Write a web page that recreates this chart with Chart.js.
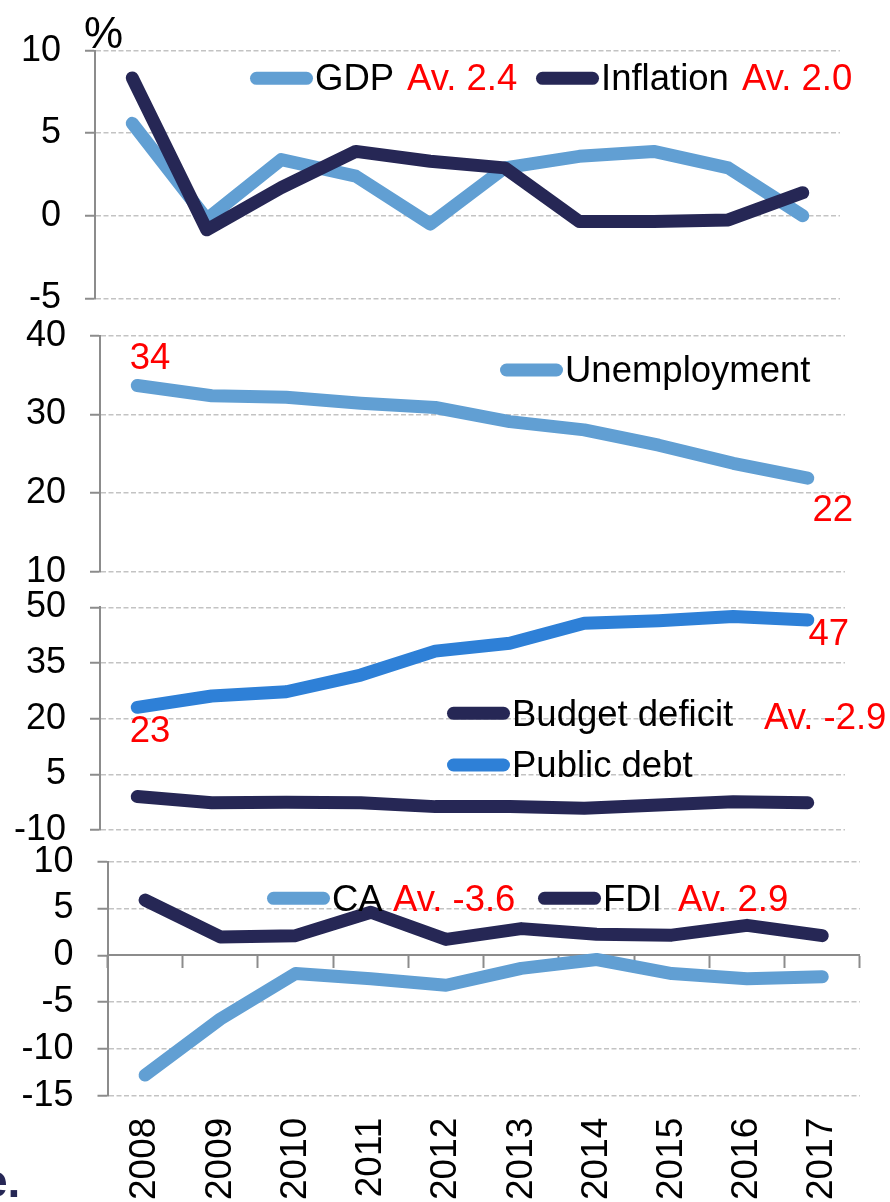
<!DOCTYPE html>
<html>
<head>
<meta charset="utf-8">
<script src="https://cdn.jsdelivr.net/npm/chart.js@4.4.1/dist/chart.umd.min.js"></script>
<style>
  html, body { margin: 0; padding: 0; background: #ffffff; }
  #wrap { position: relative; width: 890px; height: 1202px; overflow: hidden; }
  #wrap canvas { position: absolute; left: 0; top: 0; }
  #edge { position: absolute; left: -18px; top: 1158px; font: bold 46px "Liberation Sans", Arial, sans-serif; color: #262755; line-height: 46px; }
</style>
</head>
<body>
<div id="wrap">
  <canvas id="p1" width="890" height="1202"></canvas>
  <canvas id="p2" width="890" height="1202"></canvas>
  <canvas id="p3" width="890" height="1202"></canvas>
  <canvas id="p4" width="890" height="1202"></canvas>
  <div id="edge">e.</div>
</div>
<script>
// ---- data (%) ----
const years = ['2008', '2009', '2010', '2011', '2012', '2013', '2014', '2015', '2016', '2017'];
const gdp = [5.6, -0.2, 3.4, 2.4, -0.5, 2.9, 3.6, 3.9, 2.9, 0.0];
const inflation = [8.35, -0.85, 1.7, 3.9, 3.3, 2.9, -0.35, -0.35, -0.25, 1.4];
const unemployment = [33.7, 32.4, 32.2, 31.45, 30.9, 29.1, 28.05, 26.1, 23.8, 21.9];
const publicDebt = [23.05, 26.1, 27.25, 31.75, 38.2, 40.3, 45.7, 46.4, 47.5, 46.6];
const budgetDeficit = [-1.0, -2.65, -2.5, -2.65, -3.7, -3.7, -4.15, -3.25, -2.4, -2.65];
const currentAccount = [-12.8, -6.8, -1.95, -2.5, -3.2, -1.4, -0.45, -1.95, -2.5, -2.3];
const fdi = [5.9, 1.96, 2.1, 4.6, 1.7, 2.85, 2.25, 2.15, 3.2, 2.1];

// ---- style ----
const W = 890, H = 1202;
const LIGHT = '#619fd3';
const NAVY = '#262755';
const DEBT = '#2e80d7';
const RED = '#ff0000';
const GRID = '#c3c3c3';
const AXIS = '#8c8c8c';
const FAMILY = '"Liberation Sans", Arial, Helvetica, sans-serif';
const FONT = '36.5px ' + FAMILY;

Chart.defaults.font.family = FAMILY;
Chart.defaults.font.size = 36;
Chart.defaults.color = '#000000';

const mean = arr => arr.reduce((a, b) => a + b, 0) / arr.length;

// legend drawn as: line swatch, series name, optional red average
const panelLegend = {
  id: 'panelLegend',
  afterDraw(chart, args, opts) {
    if (!opts || !opts.items) return;
    const ctx = chart.ctx;
    ctx.save();
    ctx.font = FONT;
    ctx.textBaseline = 'alphabetic';
    ctx.textAlign = 'left';
    opts.items.forEach(it => {
      const ds = chart.data.datasets[it.dataset];
      ctx.strokeStyle = ds.borderColor;
      ctx.lineWidth = 13;
      ctx.lineCap = 'round';
      ctx.beginPath();
      ctx.moveTo(it.x + 6.5, it.lineY);
      ctx.lineTo(it.x + 63 - 6.5, it.lineY);
      ctx.stroke();
      ctx.fillStyle = '#000000';
      ctx.fillText(ds.label, it.x + 65, it.baseY);
      if (it.avgX !== undefined) {
        ctx.fillStyle = RED;
        ctx.fillText('Av. ' + mean(ds.data).toFixed(1), it.avgX, it.avgBaseY || it.baseY);
      }
    });
    if (opts.unit) {
      ctx.fillStyle = '#000000';
      ctx.font = opts.unit.size + 'px ' + FAMILY;
      ctx.fillText(opts.unit.text, opts.unit.x, opts.unit.y);
    }
    ctx.restore();
  }
};

// red value labels attached to chosen points
const pointLabels = {
  id: 'pointLabels',
  afterDatasetsDraw(chart, args, opts) {
    if (!opts || !opts.items) return;
    const ctx = chart.ctx;
    ctx.save();
    ctx.font = FONT;
    ctx.fillStyle = RED;
    ctx.textAlign = 'center';
    ctx.textBaseline = 'alphabetic';
    opts.items.forEach(it => {
      const el = chart.getDatasetMeta(it.dataset).data[it.index];
      const v = chart.data.datasets[it.dataset].data[it.index];
      ctx.fillText(String(Math.round(v)), el.x + it.dx, el.y + it.dy);
    });
    ctx.restore();
  }
};

function series(label, data, color, order) {
  return { label, data, borderColor: color, backgroundColor: color, order };
}

function makePanel(id, p) {
  const yScale = {
    min: p.min, max: p.max,
    ticks: { stepSize: p.step, padding: p.tickPad || 24, color: '#000000', font: { size: 36 } },
    grid: {
      color: p.gridColor || GRID,
      lineWidth: 1.5,
      tickLength: 10,
      tickColor: AXIS,
      tickWidth: 2,
      tickBorderDash: []
    },
    border: { display: true, color: AXIS, width: 2, dash: [5, 2.5] },
    afterFit(scale) { scale.width = p.left; }
  };
  const scales = { y: yScale };
  if (p.showX) {
    scales.x = {
      position: 'bottom',
      offset: true,
      grid: { display: false, drawTicks: false },
      border: { display: false },
      ticks: { autoSkip: false, minRotation: 90, maxRotation: 90, padding: 22, color: '#000000', font: { size: 37 } },
      afterFit(scale) { scale.height = H - p.bottom; }
    };
    scales.x0 = {
      type: 'category',
      position: { y: 0 },
      offset: true,
      grid: { offset: true, drawOnChartArea: false, tickLength: 12, tickColor: AXIS, tickWidth: 2, tickBorderDash: [] },
      border: { display: true, color: AXIS, width: 2 },
      ticks: { display: false }
    };
  } else {
    scales.x = { display: false, offset: true };
  }
  return new Chart(document.getElementById(id), {
    type: 'line',
    data: { labels: years, datasets: p.datasets },
    options: {
      responsive: false,
      animation: false,
      devicePixelRatio: 1,
      layout: { padding: { left: 0, right: W - p.right, top: p.top, bottom: p.showX ? 0 : H - p.bottom } },
      elements: {
        point: { radius: 0 },
        line: { tension: 0, borderWidth: 13, borderCapStyle: 'round', borderJoinStyle: 'round', fill: false }
      },
      plugins: {
        legend: { display: false },
        tooltip: { enabled: false },
        panelLegend: p.legend,
        pointLabels: p.labels
      },
      scales
    },
    plugins: [panelLegend, pointLabels]
  });
}

// GDP and inflation
makePanel('p1', {
  left: 95, right: 840, top: 50.7, bottom: 298.3,
  min: -5, max: 10, step: 5,
  datasets: [series('GDP', gdp, LIGHT, 1), series('Inflation', inflation, NAVY, 0)],
  legend: {
    items: [
      { dataset: 0, x: 250, lineY: 78.3, baseY: 90, avgX: 407 },
      { dataset: 1, x: 536, lineY: 78.3, baseY: 90, avgX: 742 }
    ],
    unit: { text: '%', x: 84, y: 48, size: 44 }
  }
});

// Unemployment
makePanel('p2', {
  left: 100, right: 845, top: 336, bottom: 571.7,
  min: 10, max: 40, step: 10,
  datasets: [series('Unemployment', unemployment, LIGHT, 0)],
  legend: { items: [{ dataset: 0, x: 500, lineY: 370, baseY: 381.7 }] },
  labels: { items: [
    { dataset: 0, index: 0, dx: 12.75, dy: -16.6 },
    { dataset: 0, index: 9, dx: 25, dy: 42.7 }
  ] }
});

// Budget deficit and public debt
makePanel('p3', {
  left: 100, right: 845, top: 607.3, bottom: 830,
  min: -10, max: 50, step: 15,
  datasets: [series('Budget deficit', budgetDeficit, NAVY, 0), series('Public debt', publicDebt, DEBT, 1)],
  legend: { items: [
    { dataset: 0, x: 447, lineY: 713.3, baseY: 726, avgX: 764, avgBaseY: 729 },
    { dataset: 1, x: 447, lineY: 765, baseY: 776.7 }
  ] },
  labels: { items: [
    { dataset: 1, index: 0, dx: 12.75, dy: 34.7 },
    { dataset: 1, index: 9, dx: 21, dy: 25 }
  ] }
});

// Current account and FDI
makePanel('p4', {
  left: 107.5, right: 863, top: 861.7, bottom: 1095.7,
  min: -15, max: 10, step: 5,
  showX: true,
  gridColor: ctx => (ctx.tick && ctx.tick.value === 0) ? 'rgba(0,0,0,0)' : GRID,
  datasets: [series('CA', currentAccount, LIGHT, 1), series('FDI', fdi, NAVY, 0)],
  legend: { items: [
    { dataset: 0, x: 267, lineY: 898.3, baseY: 910.7, avgX: 393 },
    { dataset: 1, x: 538, lineY: 898.3, baseY: 910.7, avgX: 678 }
  ] }
});
</script>
</body>
</html>
